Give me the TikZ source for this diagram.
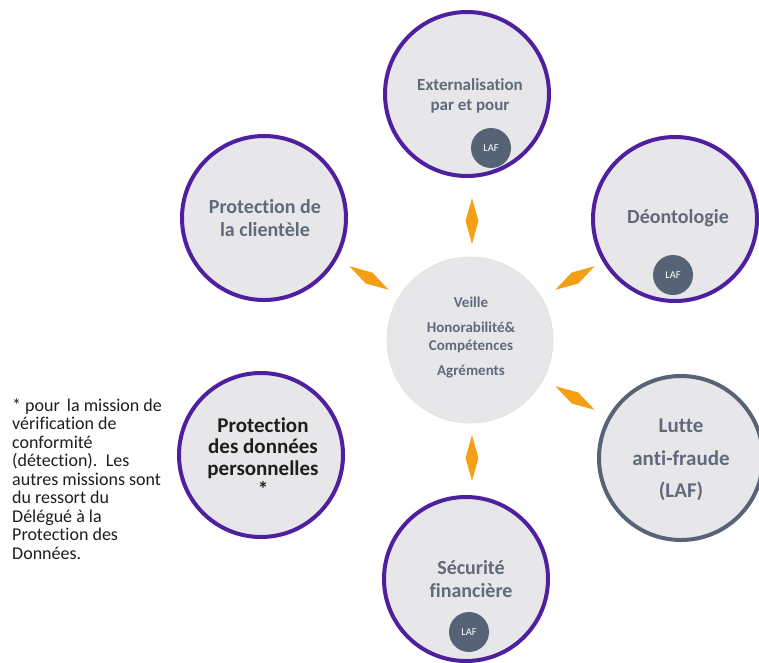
\documentclass[tikz,border=0pt]{standalone}
\usepackage{fontspec}
\setmainfont{Carlito}[Ligatures={NoCommon,NoContextual}, Contextuals=NoAlternate]
\usetikzlibrary{shapes.geometric}
\definecolor{cfill}{RGB}{231,231,234}
\definecolor{cpurple}{RGB}{78,32,160}
\definecolor{cslate}{RGB}{88,100,118}
\definecolor{ctext}{RGB}{96,106,122}
\definecolor{cbadge}{RGB}{86,99,119}
\definecolor{corange}{RGB}{245,160,20}
\definecolor{cnote}{RGB}{30,30,30}
\begin{document}
\begin{tikzpicture}[x=1pt,y=-1pt,
  bubble/.style={circle, fill=cfill, draw=cpurple, line width=4pt, minimum size=164pt, inner sep=0pt},
  hub/.style={circle, fill=cfill, draw=gray!25, line width=0.6pt, minimum size=166pt, inner sep=0pt},
  badge/.style={circle, fill=cbadge, minimum size=40pt, inner sep=0pt, text=white, font=\fontsize{10.5}{12}\selectfont},
  lbl/.style={align=center, inner sep=0pt, text=ctext, font=\fontsize{20}{23}\selectfont\bfseries},
  dia/.style={diamond, fill=corange, minimum width=46pt, minimum height=13pt, inner sep=0pt, aspect=3.5}
]
\useasboundingbox (0,0) rectangle (759,662);
\fill[white] (0,0) rectangle (759,662);

% circles
\node[hub] (hub) at (470,340) {};
\node[bubble] (ext) at (467,94) {};
\node[bubble] (cli) at (264,218) {};
\node[bubble] (deo) at (675,219) {};
\node[bubble, draw=cslate] (laf) at (681,458) {};
\node[bubble] (rgpd) at (261,455) {};
\node[bubble] (sec) at (466,579) {};

% labels
\node[lbl, font=\fontsize{17}{20}\selectfont\bfseries] (extT) at (470,96) {Externalisation\\par et pour};
\node[lbl] (cliT) at (265,218) {Protection de\\la clientèle};
\node[lbl] (deoT) at (678,218) {Déontologie};
\node[lbl, font=\fontsize{21}{32.5}\selectfont\bfseries] (lafT) at (681,460) {Lutte\\anti-fraude\\(LAF)};
\node[lbl, text=cnote, font=\fontsize{21}{21.5}\selectfont\bfseries] (rgpdT) at (263,457) {Protection\\des données\\personnelles\\*};
\node[lbl] (secT) at (471,579) {Sécurité\\financière};
\node[lbl, font=\fontsize{15}{18}\selectfont\bfseries] (hubT) at (471,337) {Veille\\[7pt]Honorabilité\&\\Compétences\\[7pt]Agréments};

% LAF badges
\node[badge] (b1) at (491,148) {LAF};
\node[badge] (b2) at (673,275) {LAF};
\node[badge] (b3) at (469,632) {LAF};

% diamonds
\node[dia, rotate=90] (d1) at (472,221) {};
\node[dia, rotate=-31] (d2) at (369,278) {};
\node[dia, rotate=31] (d3) at (575,278) {};
\node[dia, rotate=-31] (d4) at (575,398) {};
\node[dia, rotate=90] (d5) at (472,458) {};

% note
\node[anchor=west, align=left, inner sep=0pt, text=cnote, font=\fontsize{18}{18.5}\selectfont] (note) at (12,479) {* pour\, la mission de\\vérification de\\conformité\\(détection).\, Les\\autres missions sont\\du ressort du\\Délégué à la\\Protection des\\Données.};
\end{tikzpicture}
\end{document}
